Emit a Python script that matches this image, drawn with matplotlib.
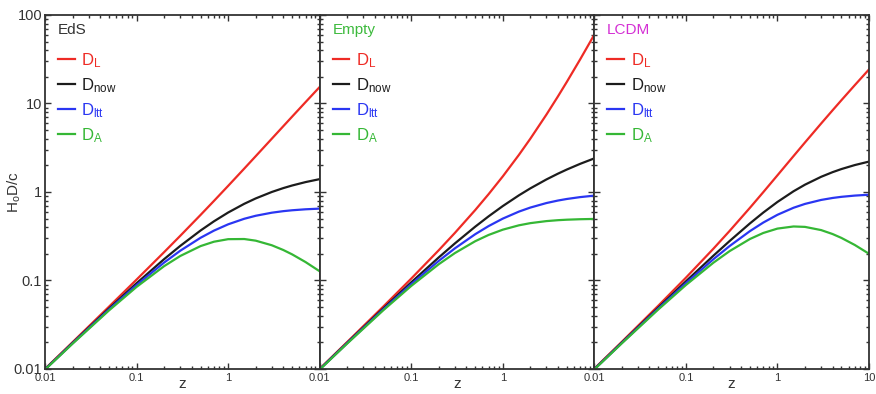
import numpy as np
import matplotlib
matplotlib.use("Agg")
import matplotlib.pyplot as plt
from matplotlib.ticker import LogLocator, NullFormatter, FixedLocator, FixedFormatter

plt.rcParams['font.family'] = ['Liberation Sans', 'DejaVu Sans']
plt.rcParams['mathtext.default'] = 'regular'

# redshift grid
z = [0.01, 0.02, 0.05, 0.1, 0.2, 0.3, 0.5, 0.7, 1, 1.5, 2, 3, 4, 5, 7, 10]

# Einstein-de Sitter
eds_DL = [0.010025, 0.020098, 0.05061, 0.102381, 0.20911, 0.319649, 0.55051, 0.792319,
          1.171573, 1.837722, 2.535898, 4.0, 5.527864, 7.101021, 10.343146, 15.36675]
eds_Dnow = [0.009926, 0.019704, 0.0482, 0.093074, 0.174258, 0.245884, 0.367007, 0.46607,
            0.585786, 0.735089, 0.845299, 1.0, 1.105573, 1.183503, 1.292893, 1.396977]
eds_Dltt = [0.009877, 0.019511, 0.047048, 0.08881, 0.159516, 0.216893, 0.303779, 0.365896,
            0.430964, 0.498012, 0.538367, 0.583333, 0.607038, 0.621306, 0.637204, 0.648393]
eds_DA = [0.009828, 0.019318, 0.045905, 0.084613, 0.145215, 0.189142, 0.244671, 0.274159,
          0.292893, 0.294036, 0.281766, 0.25, 0.221115, 0.19725, 0.161612, 0.126998]

# Empty universe
emp_DL = [0.01005, 0.0202, 0.05125, 0.105, 0.22, 0.345, 0.625, 0.945,
          1.5, 2.625, 4.0, 7.5, 12.0, 17.5, 31.5, 60.0]
emp_Dnow = [0.00995, 0.019803, 0.04879, 0.09531, 0.182322, 0.262364, 0.405465, 0.530628,
            0.693147, 0.916291, 1.098612, 1.386294, 1.609438, 1.791759, 2.079442, 2.397895]
emp_Dltt = [0.009901, 0.019608, 0.047619, 0.090909, 0.166667, 0.230769, 0.333333, 0.411765,
            0.5, 0.6, 0.666667, 0.75, 0.8, 0.833333, 0.875, 0.909091]
emp_DA = [0.009852, 0.019416, 0.046485, 0.086777, 0.152778, 0.204142, 0.277778, 0.32699,
          0.375, 0.42, 0.444444, 0.46875, 0.48, 0.486111, 0.492188, 0.495868]

# LCDM
lcdm_DL = [0.010078, 0.020308, 0.051904, 0.107478, 0.228841, 0.362553, 0.661478, 0.994619,
           1.542854, 2.547343, 3.628413, 5.936172, 8.37139, 10.89327, 16.11674, 24.24794]
lcdm_Dnow = [0.009978, 0.01991, 0.049432, 0.097707, 0.190701, 0.278887, 0.440985, 0.58507,
             0.771427, 1.018937, 1.209471, 1.484043, 1.674278, 1.815545, 2.014593, 2.204358]
lcdm_Dltt = [0.009927, 0.01971, 0.04824, 0.09316, 0.174103, 0.244716, 0.36086, 0.451145,
             0.552338, 0.663368, 0.733106, 0.812863, 0.855568, 0.881429, 0.91035, 0.930747]
lcdm_DA = [0.009879, 0.01952, 0.047078, 0.088825, 0.158918, 0.214528, 0.29399, 0.344159,
           0.385714, 0.407575, 0.403157, 0.371011, 0.334856, 0.302591, 0.251824, 0.200396]

panel_names = ['EdS', 'Empty', 'LCDM']
panel_colors = ['#333333', '#3dba3d', '#d42fd4']
series_labels = ['D$_{L}$', 'D$_{now}$', 'D$_{ltt}$', 'D$_{A}$']
series_colors = ['#ee2b25', '#1c1c1c', '#2a36f2', '#35b735']
panel_data = [
    [eds_DL, eds_Dnow, eds_Dltt, eds_DA],
    [emp_DL, emp_Dnow, emp_Dltt, emp_DA],
    [lcdm_DL, lcdm_Dnow, lcdm_Dltt, lcdm_DA],
]

ink = '#333333'
fig, axes = plt.subplots(1, 3, figsize=(8.76, 3.94), dpi=100, sharey=True)
fig.subplots_adjust(left=0.0514, right=0.992, bottom=0.0635, top=0.962, wspace=0)

for i, ax in enumerate(axes):
    for vals, lab, col in zip(panel_data[i], series_labels, series_colors):
        ax.plot(z, vals, color=col, lw=1.6, label=lab)
    ax.set_xscale('log')
    ax.set_yscale('log')
    ax.set_xlim(0.01, 10)
    ax.set_ylim(0.01, 100)

    ax.xaxis.set_major_locator(FixedLocator([0.01, 0.1, 1, 10]))
    ax.xaxis.set_major_formatter(FixedFormatter(['0.01', '0.1', '1', '10' if i == 2 else '']))
    ax.xaxis.set_minor_locator(LogLocator(base=10, subs=np.arange(2, 10)))
    ax.xaxis.set_minor_formatter(NullFormatter())
    ax.yaxis.set_major_locator(FixedLocator([0.01, 0.1, 1, 10, 100]))
    ax.yaxis.set_major_formatter(FixedFormatter(['0.01', '0.1', '1', '10', '100']))
    ax.yaxis.set_minor_locator(LogLocator(base=10, subs=np.arange(2, 10)))
    ax.yaxis.set_minor_formatter(NullFormatter())

    ax.tick_params(which='both', direction='in', top=True, right=True, color=ink, width=1.0)
    ax.tick_params(which='major', length=4.5)
    ax.tick_params(which='minor', length=2.5)
    ax.tick_params(axis='x', labelsize=8, labelcolor=ink, pad=3)
    ax.tick_params(axis='y', labelsize=10.5, labelcolor=ink, pad=2)
    if i > 0:
        ax.tick_params(axis='y', labelleft=False)
    for s in ax.spines.values():
        s.set_color(ink)
        s.set_linewidth(1.3)

    ax.set_xlabel('z', fontsize=11, color=ink)
    ax.xaxis.set_label_coords(0.5, -0.022)
    ax.text(0.047, 0.977, panel_names[i], transform=ax.transAxes, ha='left', va='top',
            fontsize=11, color=panel_colors[i])
    leg = ax.legend(loc='upper left', bbox_to_anchor=(0.047, 0.898), frameon=False,
                    handlelength=1.0, handletextpad=0.4, labelspacing=0.38,
                    fontsize=12, labelcolor='linecolor', borderaxespad=0, borderpad=0)

axes[0].set_ylabel('H$_{o}$D/c', fontsize=11, color=ink)
axes[0].yaxis.set_label_coords(-0.082, 0.5)

plt.savefig('out.png', dpi=100)
